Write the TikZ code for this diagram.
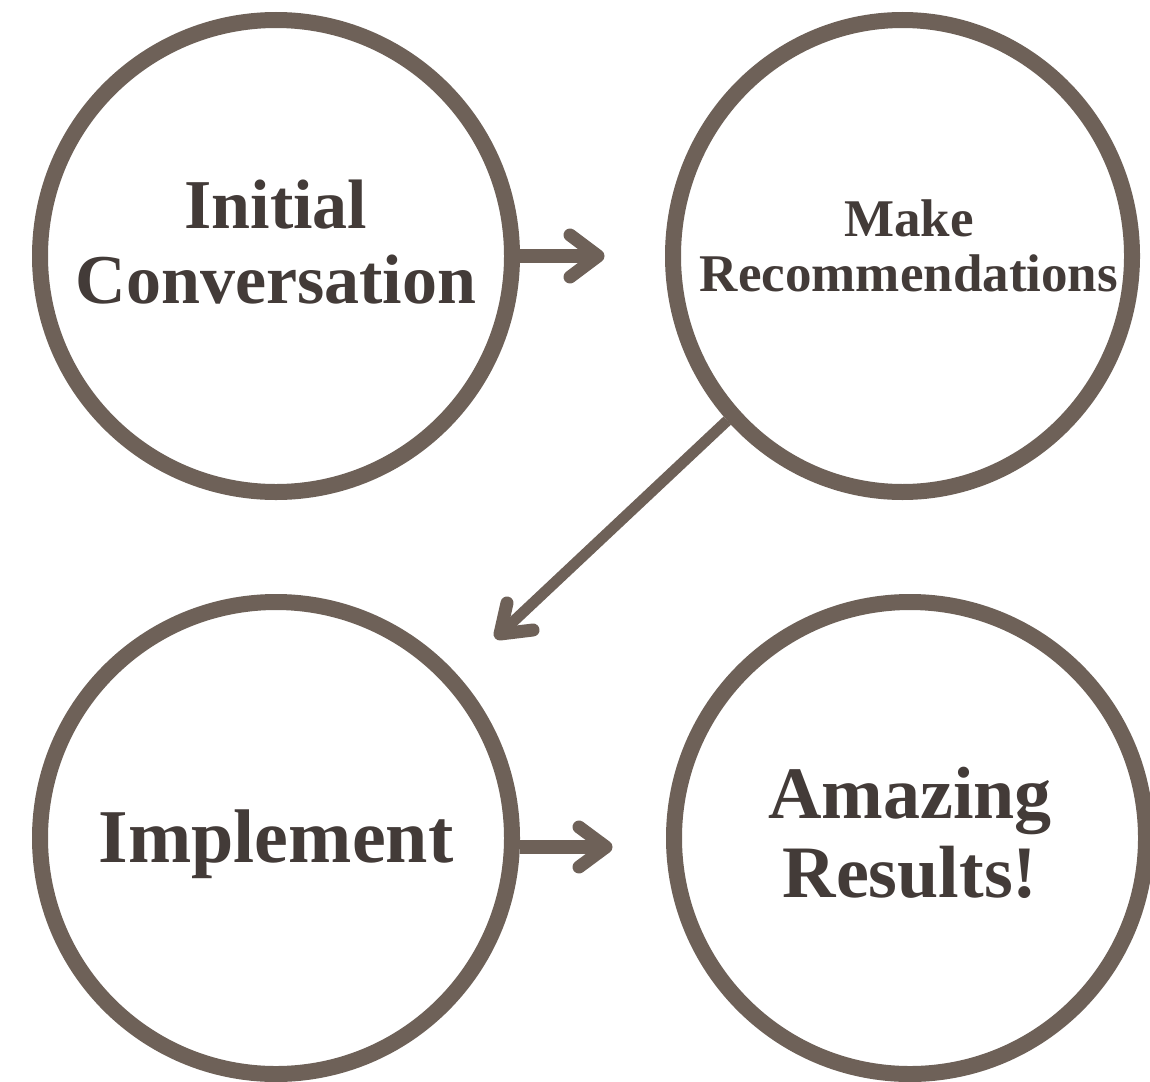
\documentclass[tikz,border=0pt]{standalone}
\usepackage{fontspec}
\usetikzlibrary{shapes.geometric}
\setmainfont{Liberation Serif}
\definecolor{ringc}{HTML}{6E6158}
\definecolor{textc}{HTML}{433B38}
\begin{document}
\begin{tikzpicture}[x=1pt,y=-1pt,
  ring/.style={draw=ringc,line width=16pt,circle,minimum size=472pt,inner sep=0pt},
  ringe/.style={draw=ringc,line width=16pt,ellipse,minimum width=459pt,minimum height=472pt,inner sep=0pt},
  shaft/.style={draw=ringc,line width=14pt},
  thinshaft/.style={draw=ringc,line width=11pt},
  head/.style={draw=ringc,line width=13pt,line cap=round,line join=round},
  txt/.style={text=textc,inner sep=0pt,anchor=base,font=\bfseries}]
\useasboundingbox (0,0) rectangle (1150,1081);
\clip (0,0) rectangle (1150,1081);
\fill[white] (0,0) rectangle (1150,1081);
% circles
\node[ring] (c1) at (276,256) {};
\node[ringe] (c2) at (902.5,256) {};
\node[ring] (c3) at (276,838) {};
\node[ring] (c4) at (910,838) {};
% texts
\node[txt,font=\bfseries\fontsize{70}{70}\selectfont] (t1a) at (276,228) {Initial};
\node[txt,font=\bfseries\fontsize{70}{70}\selectfont] (t1b) at (276,303) {Conversation};
\node[txt,font=\bfseries\fontsize{53}{53}\selectfont] (t2a) at (909,236) {Make};
\node[txt,font=\bfseries\fontsize{53}{53}\selectfont] (t2b) at (909,291) {Recommendations};
\node[txt,font=\bfseries\fontsize{76}{76}\selectfont] (t3a) at (276,862) {Implement};
\node[txt,font=\bfseries\fontsize{74}{74}\selectfont] (t4a) at (910,818) {Amazing};
\node[txt,font=\bfseries\fontsize{74}{74}\selectfont] (t4b) at (910,897) {Results!};
% arrow tips
\coordinate (p1) at (598,256);
\coordinate (p2) at (500,634);
\coordinate (p3) at (606,847);
\coordinate (s3) at (520,847);
% connectors
\draw[shaft] (c1.east) -- (p1);
\draw[head] (570,235) -- (p1) -- (570,277);
\draw[thinshaft] (c2) -- (p2);
\draw[head] (507,603) -- (p2) -- (533,630);
\draw[shaft] (s3) -- (p3);
\draw[head] (579,827) -- (p3) -- (579,867);
\end{tikzpicture}
\end{document}
